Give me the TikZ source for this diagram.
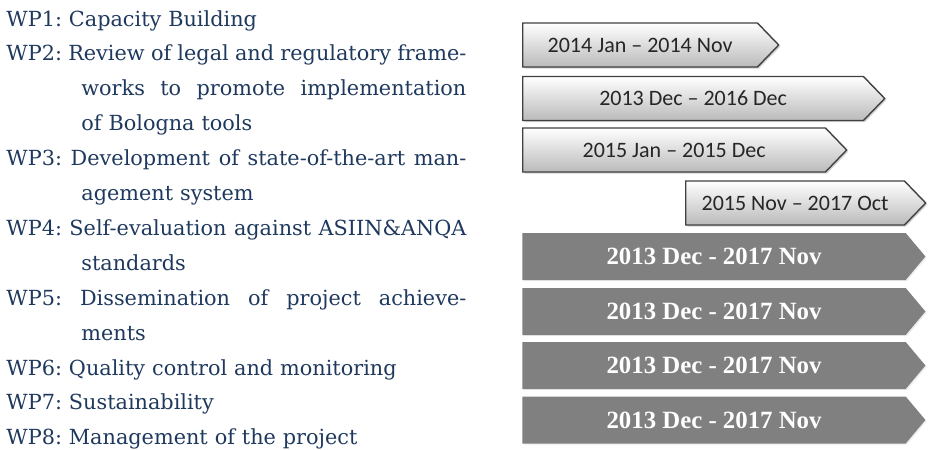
\documentclass[tikz,border=0pt]{standalone}
\usepackage{fontspec}
\setmainfont{DejaVu Serif}
\newfontfamily\datefont{Carlito}
\newfontfamily\barfont{Liberation Serif}
\usetikzlibrary{shapes.symbols, shadows}
\definecolor{wpblue}{RGB}{31,57,94}
\definecolor{barline}{RGB}{64,64,64}
\definecolor{bargray}{RGB}{128,128,128}
\frenchspacing
\newcommand{\fullline}[1]{\makebox[230pt][s]{\spaceskip=0pt\xspaceskip=0pt #1}}
\newcommand{\hangline}[1]{\hspace*{37.5pt}\makebox[192.5pt][s]{\spaceskip=0pt\xspaceskip=0pt #1}}
\newcommand{\hanglast}[1]{\hspace*{37.5pt}#1}

\tikzset{
  wp/.style={anchor=base west, inner sep=0pt, text width=230pt, align=left, text=wpblue,
    font=\fontsize{10.4}{17.45}\selectfont},
  lightbar/.style={signal, signal to=east, signal pointer angle=92, anchor=west,
    draw=barline, line width=0.7pt, top color=white, bottom color=black!27,
    minimum height=22pt, inner sep=0pt, text=black!85,
    font=\datefont\fontsize{11}{13}\selectfont,
    drop shadow={opacity=0.35, shadow xshift=0.8pt, shadow yshift=-0.8pt}},
  darkbar/.style={signal, signal to=east, signal pointer angle=100, anchor=west,
    fill=bargray, minimum height=23.5pt, minimum width=201.5pt, inner sep=0pt, text=white,
    font=\barfont\bfseries\fontsize{12.4}{14}\selectfont,
    drop shadow={opacity=0.15, shadow xshift=0.6pt, shadow yshift=-0.6pt}}
}

\begin{document}
\begin{tikzpicture}[x=0.5pt, y=-0.5pt]
  \useasboundingbox (0,0) rectangle (928,450);
  % work packages
  \node[wp] (wp1) at (6,26) {WP1: Capacity Building};
  \node[wp] (wp2) at (6,60.9) {\fullline{WP2: Review of legal and regulatory frame-}\\
    \hangline{works to promote implementation}\\ \hanglast{of Bologna tools}};
  \node[wp] (wp3) at (6,165.6) {\fullline{WP3: Development of state-of-the-art man-}\\
    \hanglast{agement system}};
  \node[wp] (wp4) at (6,235.4) {\fullline{WP4: Self-evaluation against ASIIN\&ANQA}\\
    \hanglast{standards}};
  \node[wp] (wp5) at (6,305.2) {\fullline{WP5: Dissemination of project achieve-}\\
    \hanglast{ments}};
  \node[wp] (wp6) at (6,375) {WP6: Quality control and monitoring};
  \node[wp] (wp7) at (6,409.9) {WP7: Sustainability};
  \node[wp] (wp8) at (6,444.8) {WP8: Management of the project};
  % durations
  \node[lightbar, minimum width=128pt] (d1) at (522,45) {2014 Jan \textendash{} 2014 Nov};
  \node[lightbar, minimum width=181pt] (d2) at (522,98.5) {2013 Dec \textendash{} 2016 Dec};
  \node[lightbar, minimum width=162pt] (d3) at (522,150) {2015 Jan \textendash{} 2015 Dec};
  \node[lightbar, minimum width=120pt] (d4) at (685,203) {2015 Nov \textendash{} 2017 Oct};
  \node[darkbar] (d5) at (522,256.5) {2013 Dec - 2017 Nov};
  \node[darkbar] (d6) at (522,311.5) {2013 Dec - 2017 Nov};
  \node[darkbar] (d7) at (522,365.5) {2013 Dec - 2017 Nov};
  \node[darkbar] (d8) at (522,420) {2013 Dec - 2017 Nov};
\end{tikzpicture}
\end{document}
